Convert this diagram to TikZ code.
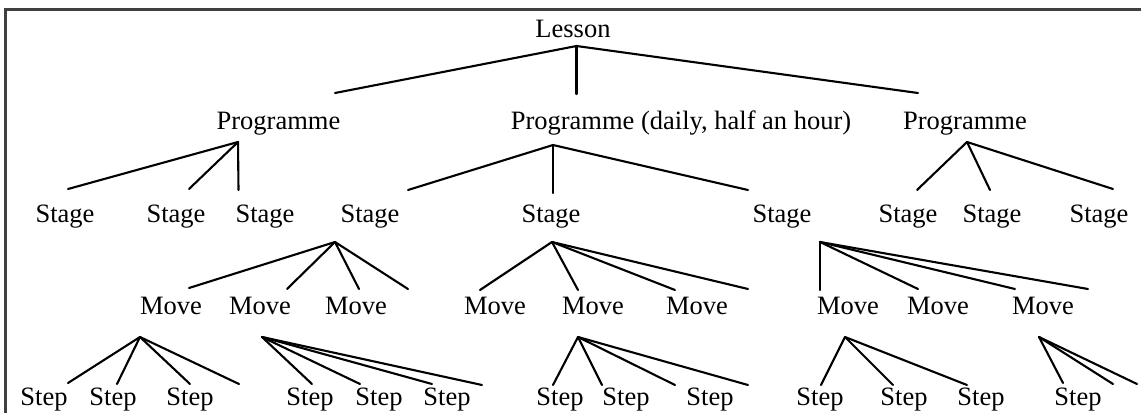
\documentclass[tikz,border=0pt]{standalone}
\usepackage{fontspec}
\setmainfont{Liberation Serif}
\begin{document}
\begin{tikzpicture}[x=1pt,y=-1pt,
  lbl/.style={anchor=base, inner sep=0pt, font=\fontsize{26.5}{30}\selectfont},
  branch/.style={line width=2.1pt, line cap=round},
  frameline/.style={line width=2.4pt, draw=black!75}]
\useasboundingbox (0,0) rectangle (1141,413);
% frame
\coordinate (fBL) at (5.5,413);
\coordinate (fTL) at (5.5,9.5);
\coordinate (fTR) at (1141,9.5);
\draw[frameline] (fBL) -- (fTL) -- (fTR);
% labels
\node[lbl] (L) at (573,37) {Lesson};
\node[lbl] (P1) at (278.5,129) {Programme};
\node[lbl] (P2) at (681,129) {Programme (daily, half an hour)};
\node[lbl] (P3) at (965,129) {Programme};
\foreach \i/\x in {1/65,2/176,3/265,4/370,5/551,6/782,7/908,8/992,9/1099}
  \node[lbl] (S\i) at (\x,222) {Stage};
\foreach \i/\x in {1/171,2/260,3/356,4/495,5/593,6/697,7/848,8/938,9/1043}
  \node[lbl] (M\i) at (\x,314) {Move};
\foreach \i/\x in {1/44,2/113,3/190,4/310,5/379,6/447,7/560,8/626,9/710,10/820,11/904,12/981,13/1078}
  \node[lbl] (T\i) at (\x,405) {Step};
% branch apexes
\foreach \n/\x/\y in {aL/576.5/46, aP1/238/142, aP2/553/145, aP3/967/142,
  aS4/335/242, aS5/552/242, aS6/820/242,
  aM1/140/337, aM2/262/337, aM5/578/337, aM7/845/337, aM9/1039/337}
  \coordinate (\n) at (\x,\y);
% branch ends
\foreach \n/\x/\y in {
  eL1/335/93, eL2/576.5/94, eL3/918/93,
  eP11/68/189, eP12/189/189, eP13/238.5/190,
  eP21/408/190, eP22/553/193, eP23/748/190,
  eP31/917/190, eP32/990/190, eP33/1113/189,
  eS41/189/288, eS42/287/289, eS43/359/289, eS44/408/289,
  eS51/480/290, eS52/578/290, eS53/675/290, eS54/748/289,
  eS61/820/290, eS62/918/289, eS63/1015/289, eS64/1088/289,
  eM11/68/383, eM12/117/384, eM13/190/384, eM14/239/384,
  eM21/312/384, eM22/360/384, eM23/432/384, eM24/482/385,
  eM51/553/385, eM52/602/385, eM53/675/385, eM54/748/385,
  eM71/821/385, eM72/893/385, eM73/967/385,
  eM91/1063/383, eM92/1113/384, eM93/1137/384}
  \coordinate (\n) at (\x,\y);
\foreach \a/\b in {aL/eL1, aL/eL2, aL/eL3,
  aP1/eP11, aP1/eP12, aP1/eP13,
  aP2/eP21, aP2/eP22, aP2/eP23,
  aP3/eP31, aP3/eP32, aP3/eP33,
  aS4/eS41, aS4/eS42, aS4/eS43, aS4/eS44,
  aS5/eS51, aS5/eS52, aS5/eS53, aS5/eS54,
  aS6/eS61, aS6/eS62, aS6/eS63, aS6/eS64,
  aM1/eM11, aM1/eM12, aM1/eM13, aM1/eM14,
  aM2/eM21, aM2/eM22, aM2/eM23, aM2/eM24,
  aM5/eM51, aM5/eM52, aM5/eM53, aM5/eM54,
  aM7/eM71, aM7/eM72, aM7/eM73,
  aM9/eM91, aM9/eM92, aM9/eM93}
  \draw[branch] (\a) -- (\b);
\end{tikzpicture}
\end{document}
